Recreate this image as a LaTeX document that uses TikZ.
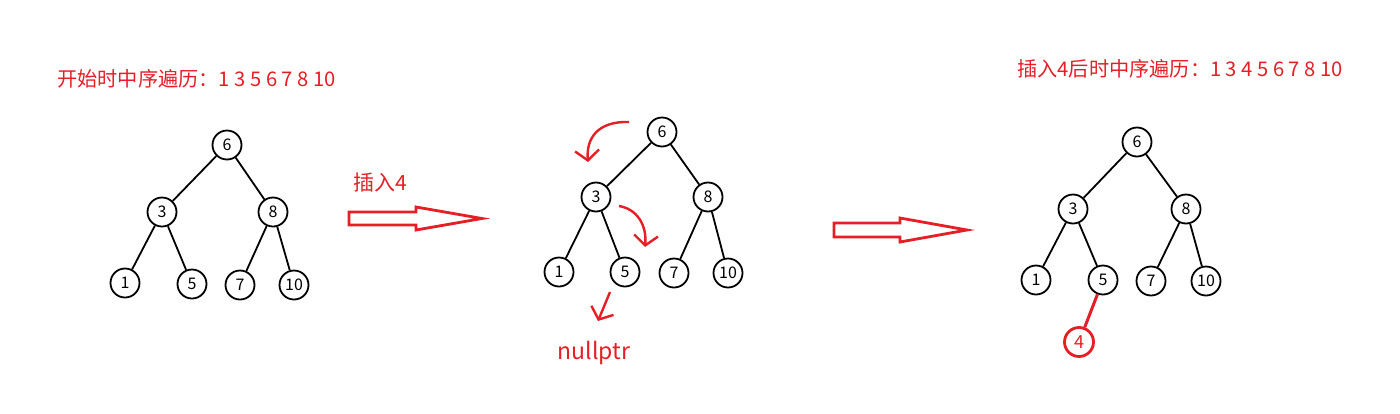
\documentclass[tikz,border=0pt]{standalone}
\usepackage{fontspec}
\setmainfont{Noto Sans CJK SC}
\usetikzlibrary{arrows.meta,positioning}
\definecolor{inkred}{RGB}{230,30,38}

\begin{document}
\begin{tikzpicture}[x=1pt, y=-1pt,
  key/.style={circle, draw, line width=1.8pt, minimum size=29pt, inner sep=0pt,
    font=\fontsize{16}{16}\selectfont},
  newkey/.style={key, draw=inkred, text=inkred, line width=2.8pt,
    font=\fontsize{18}{18}\selectfont},
  edge/.style={line width=1.8pt},
  newedge/.style={line width=3pt, draw=inkred},
  caption/.style={text=inkred, inner sep=0pt, font=\fontsize{20.2}{20.2}\selectfont},
  hint/.style={-{Straight Barb[length=10pt, width=24pt]}, line width=2.4pt, draw=inkred},
  fatarrow/.style={draw=inkred, line width=2.8pt, fill=white, line join=miter}]
\useasboundingbox (0,0) rectangle (1400,413);

% before insertion
\node[caption, anchor=west] (before) at (57,79) {开始时中序遍历：1 3 5 6 7 8 10};
\node[key] (a6) at (227,145) {6};
\node[key] (a3) at (162,212) {3};
\node[key] (a8) at (273,212) {8};
\node[key] (a1) at (125,283) {1};
\node[key] (a5) at (192,284) {5};
\node[key] (a7) at (240,285) {7};
\node[key] (a10) at (294,285) {10};
\foreach \u/\v in {a6/a3, a6/a8, a3/a1, a3/a5, a8/a7, a8/a10}
  \draw[edge] (\u) -- (\v);

% step arrow
\node[caption, font=\fontsize{21}{21}\selectfont] (step) at (380,183) {插入4};
\draw[fatarrow, shift={(349,218.5)}] (0,-6.5) -- (67,-6.5) -- (67,-11.5) -- (133,0)
  -- (67,11.5) -- (67,6.5) -- (0,6.5) -- cycle;

% search path
\node[key] (b6) at (662,132) {6};
\node[key] (b3) at (596,197) {3};
\node[key] (b8) at (708,197) {8};
\node[key] (b1) at (559,272) {1};
\node[key] (b5) at (625,272) {5};
\node[key] (b7) at (674,273) {7};
\node[key] (b10) at (728,273) {10};
\foreach \u/\v in {b6/b3, b6/b8, b3/b1, b3/b5, b8/b7, b8/b10}
  \draw[edge] (\u) -- (\v);
\coordinate (go1) at (629,122);
\coordinate (at3) at (588,162);
\coordinate (go2) at (619,206);
\coordinate (at5) at (645,247);
\coordinate (go3) at (610,292);
\coordinate (atnull) at (598,321);
\node[caption, font=\fontsize{23}{23}\selectfont] (null) at (594,353) {nullptr};
\draw[hint] (go1) .. controls (598,121) and (586,138) .. (at3);
\draw[hint] (go2) .. controls (637,209) and (647,225) .. (at5);
\draw[hint] (go3) -- (atnull);

\draw[fatarrow, shift={(834,230)}] (0,-7) -- (66,-7) -- (66,-12) -- (133,0)
  -- (66,12) -- (66,7) -- (0,7) -- cycle;

% after insertion
\node[caption, anchor=west] (after) at (1017,69) {插入4后时中序遍历：1 3 4 5 6 7 8 10};
\node[key] (c6) at (1137,142) {6};
\node[key] (c3) at (1073,209) {3};
\node[key] (c8) at (1186,209) {8};
\node[key] (c1) at (1036,280) {1};
\node[key] (c5) at (1103,280) {5};
\node[key] (c7) at (1151,281) {7};
\node[key] (c10) at (1206,281) {10};
\node[newkey] (c4) at (1079,342) {4};
\foreach \u/\v in {c6/c3, c6/c8, c3/c1, c3/c5, c8/c7, c8/c10}
  \draw[edge] (\u) -- (\v);
\draw[newedge] (c5) -- (c4);
\end{tikzpicture}
\end{document}
